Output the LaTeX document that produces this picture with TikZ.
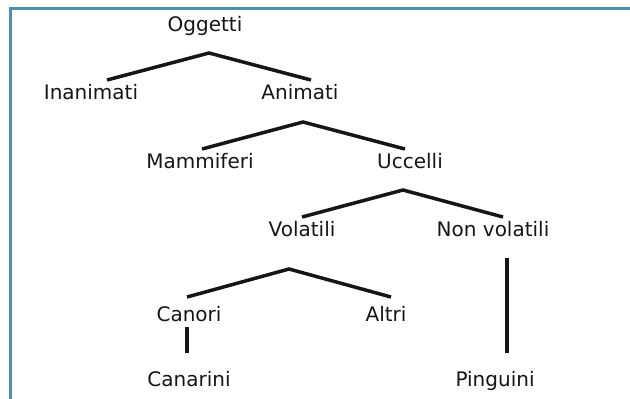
\documentclass[tikz,border=0pt]{standalone}
\usepackage{fontspec}
\setmainfont{DejaVu Sans}
\usepackage{tikz}
\usetikzlibrary{positioning}
\definecolor{txFrame}{HTML}{4F8FAE}
\definecolor{txInk}{HTML}{161616}
\tikzset{
  tx diagram/.style={x=0.5pt, y=-0.5pt, font=\fontsize{10}{12}\selectfont,
    text=txInk, line cap=butt, line join=miter},
  tx class/.style={inner sep=1pt, anchor=center, text height=7.5pt, text depth=2pt},
  tx branch/.style={draw=txInk, line width=1.75pt},
  tx frame/.style={draw=txFrame, line width=1.5pt}
}
\begin{document}
\begin{tikzpicture}[tx diagram]
\useasboundingbox (0,0) rectangle (630,398);
\draw[tx frame] (10.5,400) -- (10.5,8.5) -- (632,8.5);
% classes
\node[tx class] (ogg) at (205,26) {Oggetti};
\node[tx class] (ina) at (91,94) {Inanimati};
\node[tx class] (ani) at (300,94) {Animati};
\node[tx class] (mam) at (200,163) {Mammiferi};
\node[tx class] (ucc) at (410,163) {Uccelli};
\node[tx class] (vol) at (302,231) {Volatili};
\node[tx class] (nvo) at (493,231) {Non volatili};
\node[tx class] (can) at (189,316) {Canori};
\node[tx class] (alt) at (386,316) {Altri};
\node[tx class] (cnr) at (189,381) {Canarini};
\node[tx class] (pin) at (495,381) {Pinguini};
% branch points
\coordinate (ogg fork) at (209,53);
\coordinate (ina end) at (107,80);
\coordinate (ani end) at (311,80);
\coordinate (ani fork) at (303,122);
\coordinate (mam end) at (202,149);
\coordinate (ucc end) at (405,149);
\coordinate (ucc fork) at (403,190);
\coordinate (vol end) at (302,217);
\coordinate (nvo end) at (503,217);
\coordinate (vol fork) at (289,269);
\coordinate (can end) at (187,297);
\coordinate (alt end) at (391,297);
\coordinate (can stem) at (187,327);
\coordinate (cnr end) at (187,353);
\coordinate (nvo stem) at (507,258);
\coordinate (pin end) at (507,353);
\draw[tx branch] (ina end) -- (ogg fork) -- (ani end);
\draw[tx branch] (mam end) -- (ani fork) -- (ucc end);
\draw[tx branch] (vol end) -- (ucc fork) -- (nvo end);
\draw[tx branch] (can end) -- (vol fork) -- (alt end);
\draw[tx branch] (can stem) -- (cnr end);
\draw[tx branch] (nvo stem) -- (pin end);
\end{tikzpicture}
\end{document}
